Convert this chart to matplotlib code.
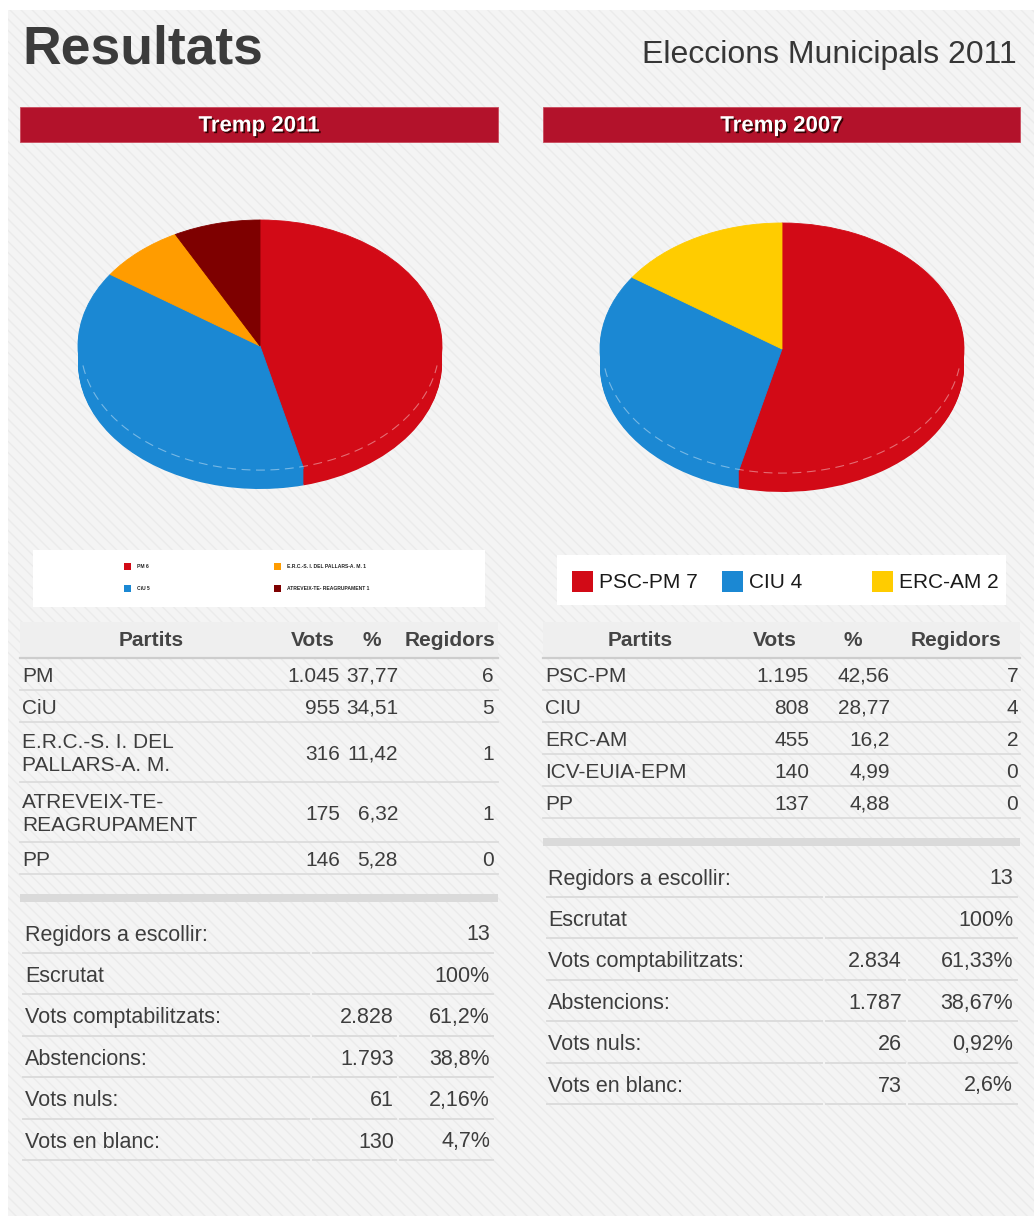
import numpy as np
import matplotlib
matplotlib.use('Agg')
import matplotlib.pyplot as plt
import matplotlib.patheffects as pe
from matplotlib.patches import Rectangle

plt.rcParams['font.family'] = ['Liberation Sans', 'DejaVu Sans']

# --- data ---------------------------------------------------------------
parties_2011 = ['PM', 'CiU', 'E.R.C.-S. I. DEL\nPALLARS-A. M.', 'ATREVEIX-TE-\nREAGRUPAMENT', 'PP']
votes_2011 = ['1.045', '955', '316', '175', '146']
pct_2011 = ['37,77', '34,51', '11,42', '6,32', '5,28']
seats_2011 = [6, 5, 1, 1, 0]
colors_2011 = ['#D20A16', '#1B88D3', '#FF9C00', '#7E0000', '#999999']

parties_2007 = ['PSC-PM', 'CIU', 'ERC-AM', 'ICV-EUIA-EPM', 'PP']
votes_2007 = ['1.195', '808', '455', '140', '137']
pct_2007 = ['42,56', '28,77', '16,2', '4,99', '4,88']
seats_2007 = [7, 4, 2, 0, 0]
colors_2007 = ['#D20A16', '#1B88D3', '#FFCC00', '#999999', '#999999']

summary_labels = ['Regidors a escollir:', 'Escrutat', 'Vots comptabilitzats:',
                  'Abstencions:', 'Vots nuls:', 'Vots en blanc:']
summary_2011_n = ['', '', '2.828', '1.793', '61', '130']
summary_2011_p = ['13', '100%', '61,2%', '38,8%', '2,16%', '4,7%']
summary_2007_n = ['', '', '2.834', '1.787', '26', '73']
summary_2007_p = ['13', '100%', '61,33%', '38,67%', '0,92%', '2,6%']

W, H = 1034, 1216
TXT = '#3d3d3d'
BAR = '#B3122B'

fig = plt.figure(figsize=(W / 100, H / 100), dpi=100)
fig.patch.set_facecolor('white')
ax = fig.add_axes([0, 0, 1, 1], zorder=0)
ax.set_xlim(0, W)
ax.set_ylim(H, 0)
ax.axis('off')

# striped page background
ax.add_patch(Rectangle((8, 10), W - 8, H - 10, facecolor='#f4f4f4',
                       edgecolor='#ebebeb', hatch='\\\\\\', linewidth=0, zorder=0))

ax.text(22, 64, 'Resultats', fontsize=38.5, fontweight='bold', color='#3b3b3b', va='baseline')
ax.text(1017, 63.5, 'Eleccions Municipals 2011', fontsize=23, color='#363636',
        ha='right', va='baseline')


def pie3d(cx, cy, seats, colors, rx=182, ry=126, depth=17):
    vals = [s for s in seats if s > 0]
    cols = [c for s, c in zip(seats, colors) if s > 0]
    pax = fig.add_axes([(cx - rx) / W, 1 - (cy + ry + depth) / H,
                        2 * rx / W, (2 * ry + depth) / H], zorder=1)
    for k in range(depth, 0, -1):
        wedges, _ = pax.pie(vals, colors=cols, startangle=90, counterclock=False,
                            center=(0, -k / ry), wedgeprops=dict(linewidth=0))
    wedges, _ = pax.pie(vals, colors=cols, startangle=90, counterclock=False,
                        wedgeprops=dict(linewidth=0.6))
    for w in wedges:
        w.set_edgecolor(w.get_facecolor())
    t = np.linspace(np.pi * 1.05, np.pi * 1.95, 200)
    pax.plot(np.cos(t) * 0.985, np.sin(t) * 0.985, color='white', alpha=0.4,
             lw=0.8, ls=(0, (8, 5)))
    pax.set_aspect('auto')
    pax.set_xlim(-1, 1)
    pax.set_ylim(-1 - depth / ry, 1)
    pax.axis('off')


def panel(x0, x1, title, parties, votes, pct, seats, colors, cols, summ, sn, sp, scols,
          pie_center, legend_kind):
    # title bar
    ax.add_patch(Rectangle((x0, 107), x1 - x0, 35, facecolor=BAR, edgecolor='#c94a5c',
                           linewidth=0.6, zorder=2))
    ax.text((x0 + x1) / 2, 126, title, color='white', fontsize=16, fontweight='bold',
            ha='center', va='center', zorder=3,
            path_effects=[pe.withSimplePatchShadow(offset=(1.2, -1.2),
                                                   shadow_rgbFace='#2a0000', alpha=0.9)])
    pie3d(pie_center[0], pie_center[1], seats, colors)

    # legend
    if legend_kind == 'small':
        ax.add_patch(Rectangle((33, 550), 452, 57, facecolor='white', linewidth=0, zorder=2))
        k = 0
        for name, s, c in zip(parties, seats, colors):
            if s == 0:
                continue
            lx = 124 + 150 * (k // 2)
            ly = 566.5 + 22 * (k % 2)
            ax.add_patch(Rectangle((lx, ly - 3.5), 7, 7, facecolor=c, linewidth=0, zorder=3))
            ax.text(lx + 13, ly, '%s %d' % (name.replace('\n', ' '), s), fontsize=3.6,
                    color='#222222', va='center', zorder=3, fontweight='bold')
            k += 1
    else:
        ax.add_patch(Rectangle((557, 555), 449, 50, facecolor='white', linewidth=0, zorder=2))
        k = 0
        for name, s, c in zip(parties, seats, colors):
            if s == 0:
                continue
            lx = 572 + 150 * k
            ax.add_patch(Rectangle((lx, 571), 21, 21, facecolor=c, linewidth=0, zorder=3))
            ax.text(lx + 27, 582, '%s %d' % (name, s), fontsize=15, color='#1a1a1a',
                    va='center', zorder=3)
            k += 1

    # party table
    hc, rr = cols
    ax.add_patch(Rectangle((x0, 622), x1 - x0, 36, facecolor='#efefef', linewidth=0, zorder=2))
    ax.plot([x0, x1], [658, 658], color='#cdcdcd', lw=1.6, zorder=3)
    for lab, xc in zip(['Partits', 'Vots', '%', 'Regidors'], hc):
        ax.text(xc, 640, lab, fontsize=15, fontweight='bold', color='#444444',
                ha='center', va='center', zorder=3)
    y = 658
    for name, v, p, s in zip(parties, votes, pct, seats):
        h = 60 if '\n' in name else 32
        yc = y + h / 2
        ax.text(x0 + 2, yc + 2, name, fontsize=15, color=TXT, va='center',
                linespacing=1.25, zorder=3)
        for val, xr in zip([v, p, str(s)], rr):
            ax.text(xr, yc + 2, val, fontsize=15, color=TXT, ha='right', va='center', zorder=3)
        y += h
        ax.plot([x0, x1], [y, y], color='#dcdcdc', lw=1.3, zorder=3)

    # separator
    ax.add_patch(Rectangle((x0, y + 20), x1 - x0, 8, facecolor='#dadada', linewidth=0, zorder=2))

    # summary table
    lx, segs, r2, r3 = scols
    yl = y + 79
    for i, (lab, n, p) in enumerate(zip(summ, sn, sp)):
        ly = yl + 41.4 * i
        ax.text(lx, ly - 18, lab, fontsize=15.5, color=TXT, va='center', zorder=3)
        if n:
            ax.text(r2, ly - 18, n, fontsize=15.5, color=TXT, ha='right', va='center', zorder=3)
        ax.text(r3, ly - 18, p, fontsize=15.5, color=TXT, ha='right', va='center', zorder=3)
        if n:
            parts = segs
        else:
            parts = [segs[0], (segs[1][0], segs[2][1])]
        for a, b in parts:
            ax.plot([a, b], [ly, ly], color='#dcdcdc', lw=1.4, zorder=3)


panel(20, 498, 'Tremp 2011', parties_2011, votes_2011, pct_2011, seats_2011, colors_2011,
      ([151, 313, 372, 450], [340, 398, 494]),
      summary_labels, summary_2011_n, summary_2011_p,
      (25, [(23, 309), (313, 396), (400, 493)], 394, 490),
      (260, 346), 'small')

panel(543, 1020, 'Tremp 2007', parties_2007, votes_2007, pct_2007, seats_2007, colors_2007,
      ([640, 775, 853, 956], [809, 890, 1018]),
      summary_labels, summary_2007_n, summary_2007_p,
      (548, [(547, 822), (826, 905), (909, 1017)], 902, 1013),
      (782, 349), 'big')

fig.savefig('out.png', dpi=100)
